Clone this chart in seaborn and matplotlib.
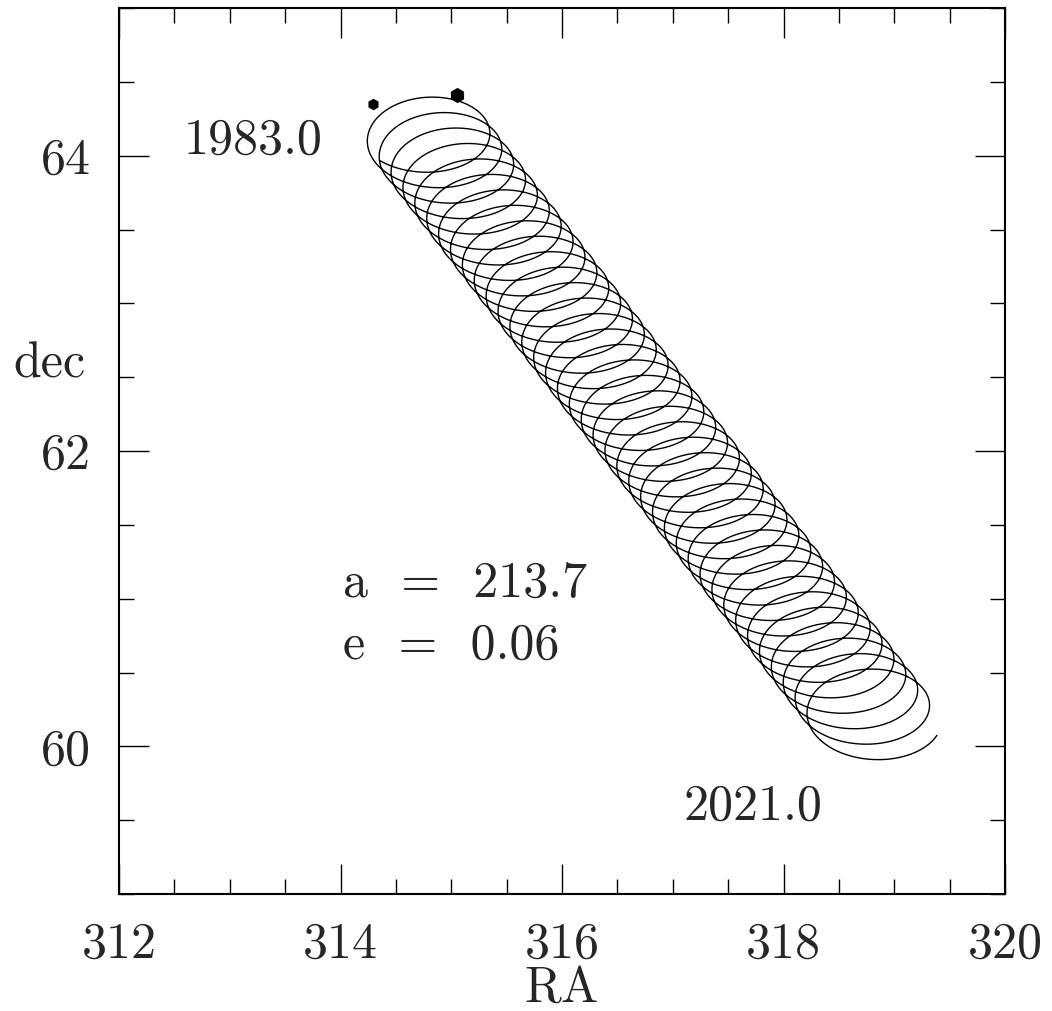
import numpy as np
import pandas as pd
import matplotlib
matplotlib.use("Agg")
import matplotlib.pyplot as plt
import seaborn as sns

# ---- data ----
epochs = [1983.0, 2021.0]            # first / last epoch of the track
centre_ra = [314.73, 318.84]         # loop centre RA at first / last epoch
centre_dec = [64.18, 60.17]          # loop centre dec at first / last epoch
semi_ra = 0.58                       # loop semi-axis in RA (deg)
semi_dec = 0.28                      # loop semi-axis in dec (deg)
phase_start_deg = 230.0              # loop phase at first epoch
phase_end_deg = 340.0                # loop phase at last epoch
n_loops = 38                         # full loops between the epochs

dot_ra = [314.29, 315.05]
dot_dec = [64.35, 64.41]
dot_size = [70, 120]

label_epochs = ["1983.0", "2021.0"]
orbit_text = ["a  =  213.7", "e  =  0.06"]

x_ticks_major = [312, 314, 316, 318, 320]
y_ticks_major = [60, 62, 64]

# ---- build the track (linear motion + yearly loop) ----
t = np.linspace(0.0, 1.0, 8000)
yrs = epochs[0] + t * (epochs[1] - epochs[0])
th0 = np.deg2rad(phase_start_deg)
th1 = np.deg2rad(phase_end_deg) + 2 * np.pi * n_loops
theta = th0 + t * (th1 - th0)
ra = centre_ra[0] + t * (centre_ra[1] - centre_ra[0]) + semi_ra * np.cos(theta)
dec = centre_dec[0] + t * (centre_dec[1] - centre_dec[0]) + semi_dec * np.sin(theta)
track = pd.DataFrame({"RA": ra, "dec": dec, "year": yrs})

sns.set_theme(style="white")
plt.rcParams["font.family"] = ["cmr10", "DejaVu Serif"]
plt.rcParams["axes.unicode_minus"] = False
plt.rcParams["mathtext.fontset"] = "cm"

FS = 36

fig = plt.figure(figsize=(10.52, 10.11), dpi=100)
ax = fig.add_axes([119 / 1052, 1 - 894 / 1011, 886 / 1052, 886 / 1011])

sns.lineplot(data=track, x="RA", y="dec", sort=False, estimator=None,
             color="black", linewidth=1.0, ax=ax)
for s, xr, yd in zip(dot_size, dot_ra, dot_dec):
    ax.scatter([xr], [yd], s=s, marker="h", color="black", zorder=5, linewidths=0)

ax.set_xlim(312, 320)
ax.set_ylim(59, 65)
ax.set_xticks(x_ticks_major)
ax.set_yticks(y_ticks_major)
ax.set_xticks(np.arange(312, 320.01, 0.5), minor=True)
ax.set_yticks(np.arange(59, 65.01, 0.5), minor=True)
ax.set_xticklabels([str(v) for v in x_ticks_major])
ax.set_yticklabels([str(v) for v in y_ticks_major])

ax.tick_params(which="both", direction="in", top=True, right=True,
               bottom=True, left=True, color="black", width=1.0)
ax.tick_params(which="major", length=21.5, labelsize=FS, pad=20)
ax.tick_params(which="minor", length=10.8)
for sp in ax.spines.values():
    sp.set_color("black")
    sp.set_linewidth(1.5)

ax.set_xlabel("RA", fontsize=FS, va="baseline")
ax.set_ylabel("dec", fontsize=FS, rotation=0, ha="center", va="center")
ax.xaxis.set_label_coords(0.5, -0.122)
ax.yaxis.set_label_coords(-0.078, 0.597)

ax.text(313.21, 64.10, label_epochs[0], fontsize=FS, ha="center", va="center")
ax.text(317.72, 59.59, label_epochs[1], fontsize=FS, ha="center", va="center")
ax.text(314.02, 61.10, orbit_text[0], fontsize=FS, ha="left", va="center")
ax.text(314.02, 60.68, orbit_text[1], fontsize=FS, ha="left", va="center")

fig.savefig("out.png", dpi=100)
